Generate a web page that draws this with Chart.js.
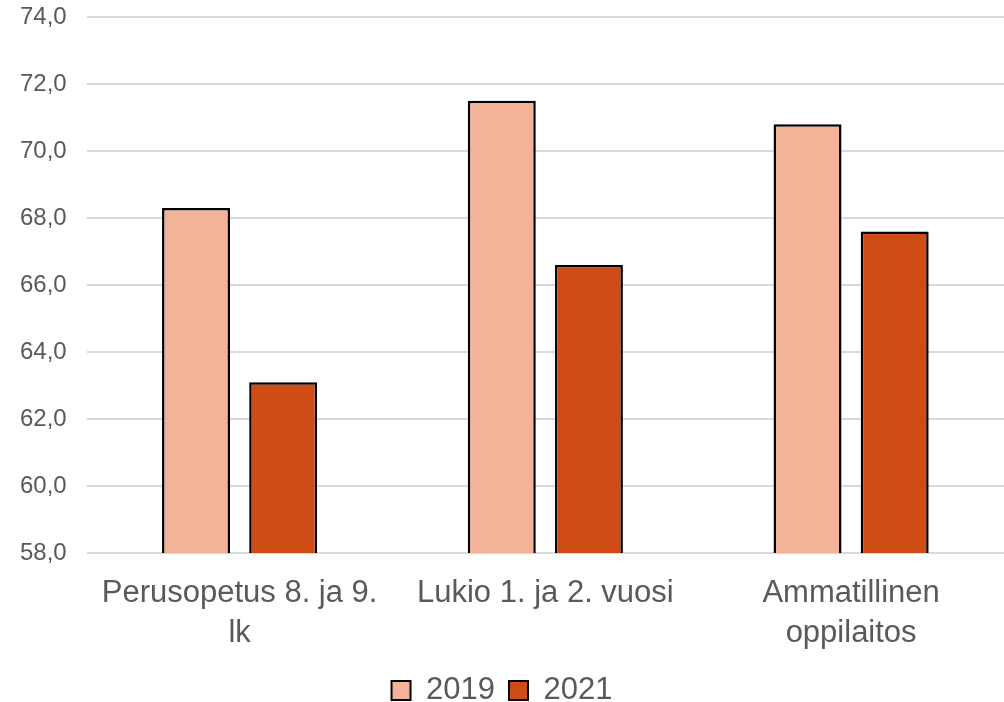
<!DOCTYPE html>
<html>
<head>
<meta charset="utf-8">
<script src="https://cdn.jsdelivr.net/npm/chart.js@4/dist/chart.umd.min.js"></script>
<style>
html,body{margin:0;padding:0;background:#fff;}
#wrap{width:1004px;height:702px;position:relative;}
</style>
</head>
<body>
<div id="wrap"><canvas id="c" width="1004" height="702"></canvas></div>
<script>
const categories = [["Perusopetus 8. ja 9.", "lk"], "Lukio 1. ja 2. vuosi", ["Ammatillinen", "oppilaitos"]];
const seriesNames = ["2019", "2021"];
const values2019 = [68.3, 71.5, 70.8];
const values2021 = [63.1, 66.6, 67.6];
const yMin = 58, yMax = 74, yStep = 2;

const textColor = '#595959';
const fam = 'Liberation Sans, Arial, sans-serif';
new Chart(document.getElementById('c'), {
  type: 'bar',
  data: {
    labels: categories,
    datasets: [
      {label: seriesNames[0], data: values2019, backgroundColor: '#F3B399', borderColor: '#000', borderWidth: 2.5},
      {label: seriesNames[1], data: values2021, backgroundColor: '#CF4C16', borderColor: '#000', borderWidth: 2.5}
    ]
  },
  options: {
    responsive: false,
    animation: false,
    devicePixelRatio: 1,
    layout: {padding: {top: 17, left: 0, right: 0, bottom: -14}},
    datasets: {bar: {categoryPercentage: 0.57, barPercentage: 0.78}},
    plugins: {
      tooltip: {enabled: false},
      legend: {
        position: 'bottom',
        labels: {
          color: textColor,
          font: {family: fam, size: 31},
          boxWidth: 19, boxHeight: 19, padding: 14,
          generateLabels: (chart) => chart.data.datasets.map((d, i) => ({
            text: d.label, fillStyle: d.backgroundColor, strokeStyle: '#000', lineWidth: 2,
            fontColor: textColor, datasetIndex: i, hidden: false
          }))
        }
      }
    },
    scales: {
      x: {
        grid: {display: false, drawTicks: false},
        border: {display: false},
        afterFit: (s) => { s.height -= 12; },
        ticks: {color: textColor, font: {family: fam, size: 31, lineHeight: 1.29}, maxRotation: 0, autoSkip: false, padding: 20}
      },
      y: {
        min: yMin, max: yMax,
        grid: {color: '#D9D9D9', lineWidth: 2, drawTicks: false},
        border: {display: false},
        afterFit: (s) => { s.paddingTop = 0; },
        ticks: {
          stepSize: yStep, color: textColor,
          font: {family: fam, size: 24},
          padding: 20,
          callback: v => v.toFixed(1).replace('.', ',')
        }
      }
    }
  }
});
</script>
</body>
</html>
